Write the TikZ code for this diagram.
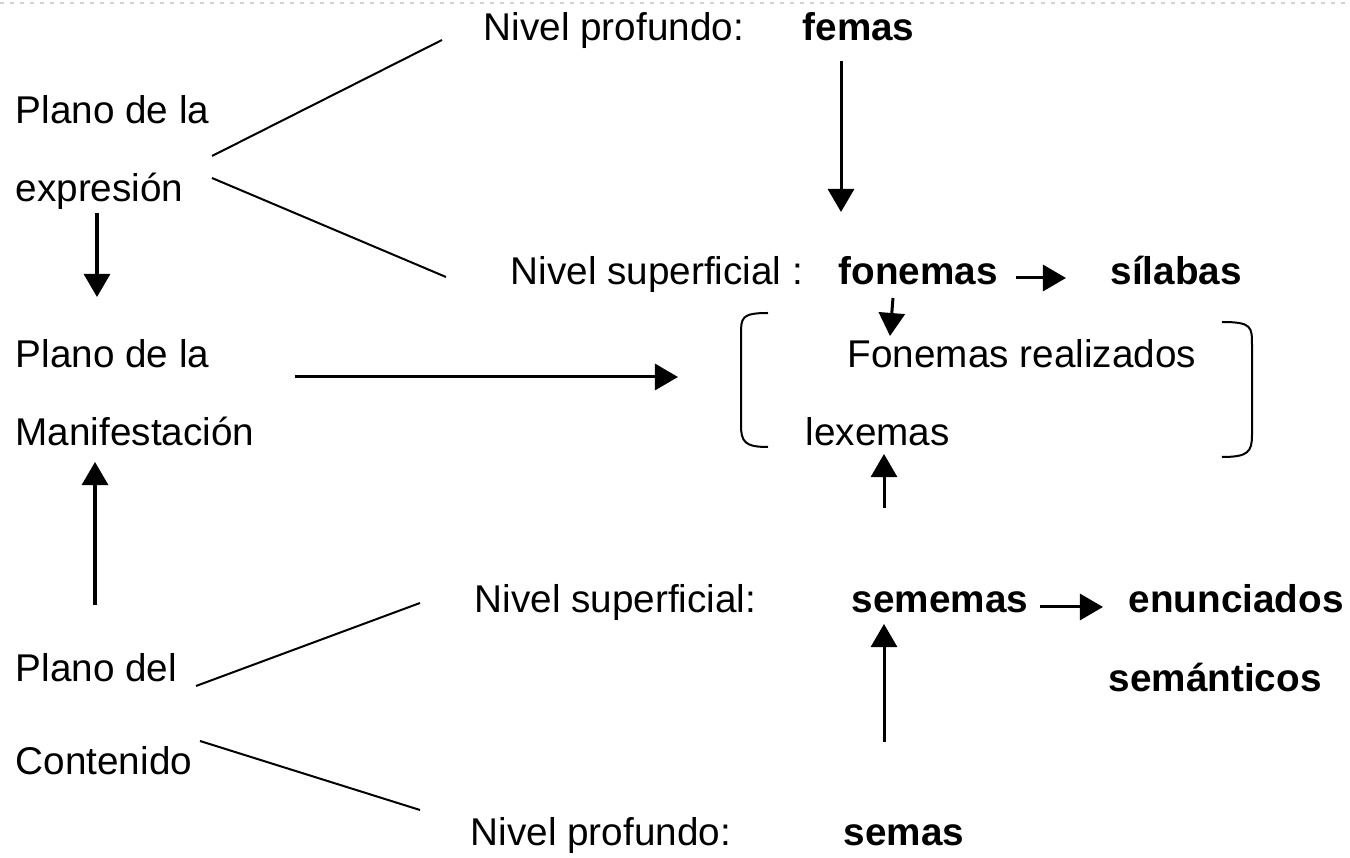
\documentclass[tikz,border=0pt]{standalone}
\usepackage{fontspec}
\setmainfont{Liberation Sans}
\usetikzlibrary{arrows.meta}
\tikzset{
  txt/.style={anchor=base west, inner sep=0pt, font=\fontsize{11}{13}\selectfont},
  negrita/.style={anchor=base west, inner sep=0pt, font=\fontsize{11}{13}\selectfont\bfseries},
  flecha/.style={line width=0.03cm, -{Triangle[length=0.23cm,width=0.26cm]}},
  raya/.style={line width=0.02cm},
}

\begin{document}
\begin{tikzpicture}[x=0.01cm,y=-0.01cm]
\useasboundingbox (0,0) rectangle (1350,858);
\draw[gray!35, line width=0.02cm, dash pattern=on 0.04cm off 0.06cm] (0,3) -- (1350,3);

% columna izquierda
\node[txt] (expr1) at (15,124) {Plano de la};
\node[txt] (expr2) at (15,202) {expresión};
\node[txt] (mani1) at (15,368) {Plano de la};
\node[txt] (mani2) at (15,446) {Manifestación};
\node[txt] (cont1) at (15,682) {Plano del};
\node[txt] (cont2) at (15,775) {Contenido};

% niveles
\node[txt] (npexp) at (483,41) {Nivel profundo:};
\node[negrita] (femas) at (802,41) {femas};
\node[txt] (nsexp) at (510,285) {Nivel superficial :};
\node[negrita] (fonemas) at (838,285) {fonemas};
\node[negrita] (silabas) at (1110,285) {sílabas};
\node[txt] (realiz) at (847,368) {Fonemas realizados};
\node[txt] (lexemas) at (805,446) {lexemas};
\node[txt] (nscont) at (474,613) {Nivel superficial:};
\node[negrita] (sememas) at (851,613) {sememas};
\node[negrita] (enunc) at (1128,613) {enunciados};
\node[negrita] (seman) at (1108,692) {semánticos};
\node[txt] (npcont) at (470,846) {Nivel profundo:};
\node[negrita] (semas) at (843,846) {semas};

% puntos de apoyo
\coordinate (e1) at (212,156);
\coordinate (e2) at (212,178);
\coordinate (c1) at (196,686);
\coordinate (c2) at (200,741);

\draw[raya] (e1) -- (442,40);
\draw[raya] (e2) -- (446,277);
\draw[raya] (c1) -- (420,603);
\draw[raya] (c2) -- (420,810);

\draw[flecha] (97,213) -- (97,297);
\draw[flecha] (295,377) -- (678,377);
\draw[flecha] (95,605) -- (95,462);

\draw[flecha] (841,61) -- (841,212);
\draw[flecha] (1016,278) -- (1066,278);
\draw[flecha] (893,298) -- (890,336);
\draw[flecha] (884,508) -- (884,454);
\draw[flecha] (1040,607) -- (1103,607);
\draw[flecha] (884,742) -- (884,624);

% corchetes
\draw[raya] (768,313) .. controls (741,313) and (741,318) .. (741,335) -- (741,425) .. controls (741,442) and (745,447) .. (768,447);
\draw[raya] (1222,322) .. controls (1252,322) and (1252,327) .. (1252,345) -- (1252,435) .. controls (1252,452) and (1248,457) .. (1222,457);
\end{tikzpicture}
\end{document}
